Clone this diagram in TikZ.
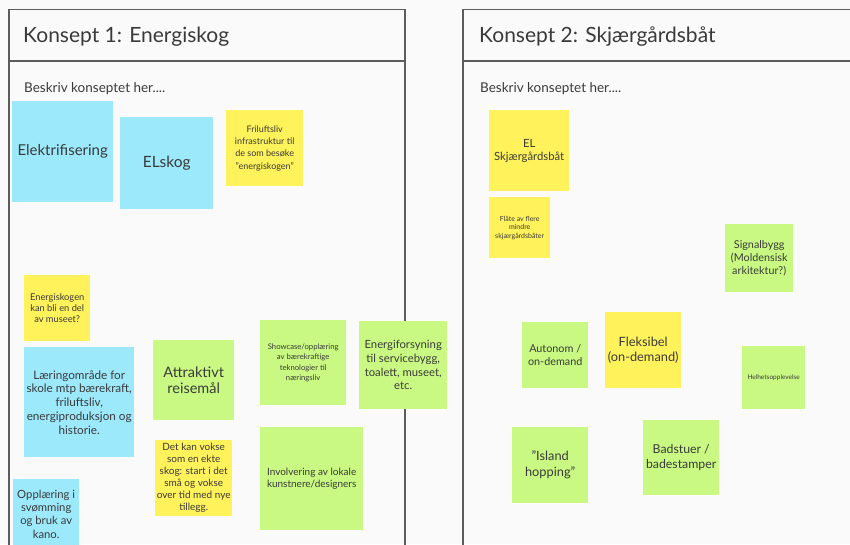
\documentclass[tikz,border=0pt]{standalone}
\usepackage{fontspec}
\setmainfont{Lato}
\usepackage{tikz}
\usetikzlibrary{positioning}
\definecolor{bgpaper}{HTML}{FAFAFA}
\definecolor{framegray}{HTML}{5C5C5C}
\definecolor{inkgray}{HTML}{3A3A3A}
\definecolor{noteblue}{HTML}{9CE9FC}
\definecolor{noteyellow}{HTML}{FFF25A}
\definecolor{notegreen}{HTML}{C9F982}
\tikzstyle{note} = [rectangle, anchor=north west, align=center, inner sep=1pt,
    text=inkgray]
\tikzstyle{bluenote} = [note, fill=noteblue]
\tikzstyle{yellownote} = [note, fill=noteyellow]
\tikzstyle{greennote} = [note, fill=notegreen]
\tikzstyle{frame} = [draw=framegray, line width=1.2pt]
\tikzstyle{heading} = [anchor=base west, inner sep=0pt, text=inkgray]
\newcommand{\fsz}[2]{\fontsize{#1}{#2}\selectfont}

\begin{document}
\begin{tikzpicture}[x=1pt, y=-1pt]
  \clip (0,0) rectangle (850,544);
  \fill [bgpaper] (0,0) rectangle (850,544);
  \draw [frame] (9,560) -- (9,9.5) -- (405,9.5) -- (405,560);
  \draw [frame] (9,61) -- (405,61);
  \draw [frame] (463,560) -- (463,9.5) -- (870,9.5);
  \draw [frame] (463,61) -- (870,61);
  \node [heading, font=\fsz{21}{25}] (title1) at (23,42) {Konsept 1: Energiskog};
  \node [heading, font=\fsz{13.5}{16}] (sub1) at (24,92) {Beskriv konseptet her....};
  \node [heading, font=\fsz{21}{25}] (title2) at (479,42) {Konsept 2: Skjærgårdsbåt};
  \node [heading, font=\fsz{13.5}{16}] (sub2) at (480,92) {Beskriv konseptet her....};

  \node [bluenote, minimum width=101pt, minimum height=101pt, font=\fsz{15}{18}] (elektri) at (12,101) {Elektrifisering};
  \node [bluenote, minimum width=93pt, minimum height=92pt, font=\fsz{15.5}{18}] (elskog) at (120,117) {ELskog};
  \node [yellownote, minimum width=77pt, minimum height=76pt, font=\fsz{9}{12.4}] (frilufts) at (226,110) {Friluftsliv\\ infrastruktur til\\ de som besøke\\ "energiskogen"};
  \node [yellownote, minimum width=66pt, minimum height=66pt, font=\fsz{9.3}{10.8}] (museet) at (24,275) {Energiskogen\\ kan bli en del\\ av museet?};
  \node [bluenote, minimum width=110pt, minimum height=110pt, font=\fsz{11.7}{13.75}] (laering) at (24,347) {Læringområde for\\ skole mtp bærekraft,\\ friluftsliv,\\ energiproduksjon og\\ historie.};
  \node [bluenote, minimum width=66pt, minimum height=70pt, font=\fsz{11.3}{13.3}] (svomming) at (13,479) {Opplæring i\\ svømming\\ og bruk av\\ kano.};
  \node [greennote, minimum width=81pt, minimum height=80pt, font=\fsz{14.5}{16.7}] (reisemaal) at (153,340) {Attraktivt\\ reisemål};
  \node [yellownote, minimum width=77pt, minimum height=76pt, font=\fsz{10}{12}] (vokse) at (155,440) {Det kan vokse\\ som en ekte\\ skog: start i det\\ små og vokse\\ over tid med nye\\ tillegg.};
  \node [greennote, minimum width=86pt, minimum height=85pt, font=\fsz{7.7}{10.5}] (showcase) at (260,320) {Showcase/opplæring\\ av bærekraftige\\ teknologier til\\ næringsliv};
  \node [greennote, minimum width=88pt, minimum height=88pt, font=\fsz{11.3}{13.7}] (forsyning) at (359,321) {Energiforsyning\\ til servicebygg,\\ toalett, museet,\\ etc.};
  \node [greennote, minimum width=103pt, minimum height=103pt, font=\fsz{10}{11.4}] (kunstnere) at (260,427) {Involvering av lokale\\ kunstnere/designers};

  \node [yellownote, minimum width=80pt, minimum height=81pt, font=\fsz{11.3}{13}] (elbaat) at (489,110) {EL\\ Skjærgårdsbåt};
  \node [yellownote, minimum width=61pt, minimum height=61pt, font=\fsz{7}{8.5}] (flaate) at (489,197) {Flåte av flere\\ mindre\\ skjærgårdsbåter};
  \node [greennote, minimum width=68pt, minimum height=68pt, font=\fsz{10.8}{13.3}] (signal) at (725,224) {Signalbygg\\ (Moldensisk\\ arkitektur?)};
  \node [greennote, minimum width=66pt, minimum height=66pt, font=\fsz{10.8}{13}] (autonom) at (522,322) {Autonom /\\ on-demand};
  \node [yellownote, minimum width=76pt, minimum height=76pt, font=\fsz{12.8}{15}] (fleksibel) at (605,312) {Fleksibel\\ (on-demand)};
  \node [greennote, minimum width=63pt, minimum height=63pt, font=\fsz{6.5}{8}] (helhet) at (742,346) {Helhetsopplevelse};
  \node [greennote, minimum width=76pt, minimum height=76pt, font=\fsz{12.8}{16}] (island) at (512,427) {"Island\\ hopping"};
  \node [greennote, minimum width=76pt, minimum height=75pt, font=\fsz{12.3}{15}] (badstue) at (643,420) {Badstuer /\\ badestamper};
\end{tikzpicture}
\end{document}
